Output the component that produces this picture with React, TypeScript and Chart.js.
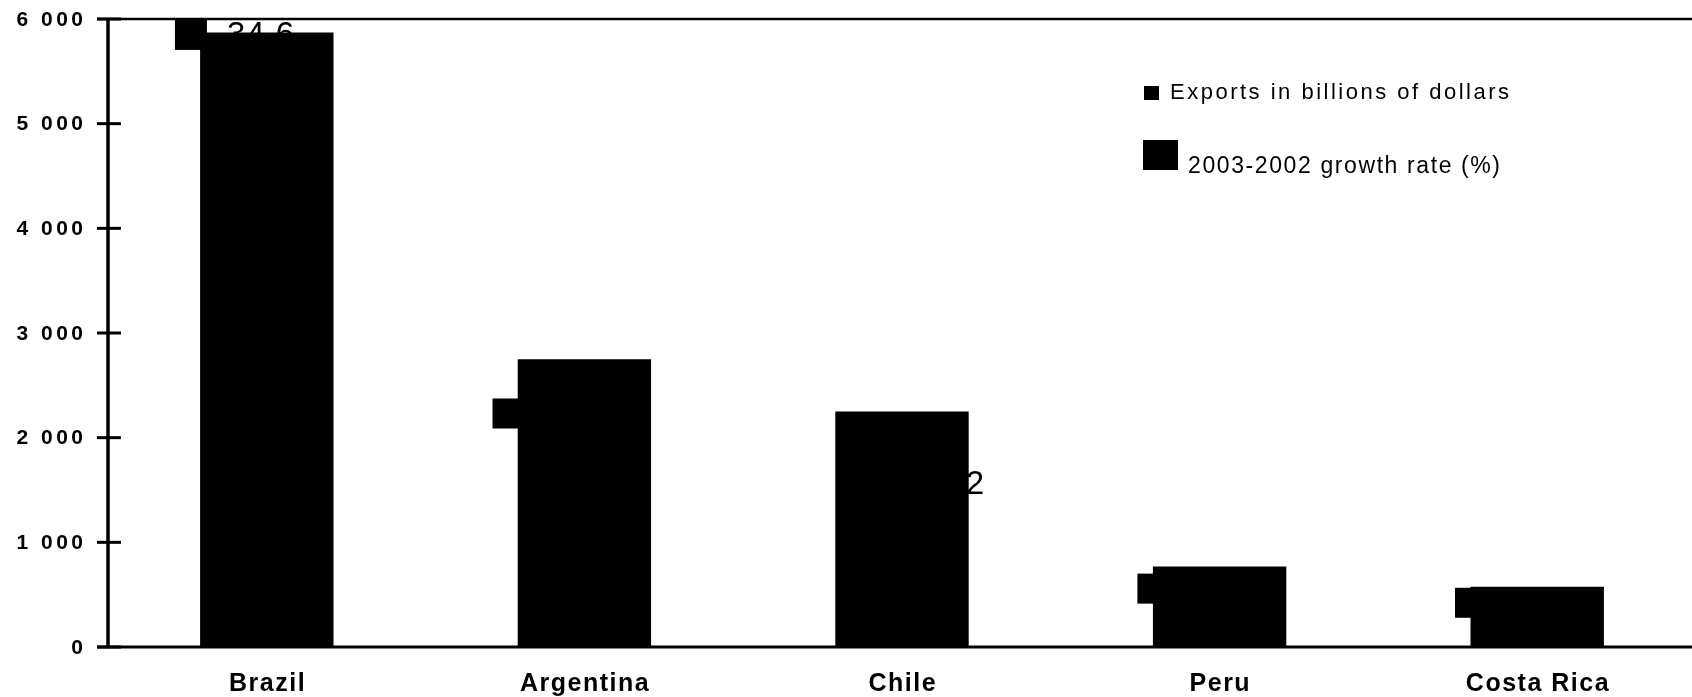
import React, { useEffect, useRef } from 'react';
import { Chart, registerables } from 'chart.js';

Chart.register(...registerables);

// ---- data ----
const countries = ['Brazil', 'Argentina', 'Chile', 'Peru', 'Costa Rica'];
const exportsValues = [5870, 2750, 2250, 770, 575];
const growthRates = [34.6, 13.2, 9.2, 3.3, 2.5];
const growthLabelPosition = ['center', 'center', 'right', 'center', 'center'];
const yTickValues = [0, 1000, 2000, 3000, 4000, 5000, 6000];
const yTickLabels = ['0', '1 000', '2 000', '3 000', '4 000', '5 000', '6 000'];
const seriesNames = ['Exports in billions of dollars', '2003-2002 growth rate (%)'];

const FONT = '"Liberation Sans", Arial, sans-serif';

const drawPlugin = {
  id: 'customDraw',
  beforeDatasetsDraw(chart: any) {
    const ctx = chart.ctx as CanvasRenderingContext2D;
    const { left, top, bottom } = chart.chartArea;
    const W = chart.width;
    const yScale = chart.scales.y;
    const xScale = chart.scales.x;
    ctx.save();
    ctx.strokeStyle = '#000';
    ctx.fillStyle = '#000';
    ctx.lineCap = 'butt';

    // top border
    ctx.lineWidth = 2.5;
    ctx.beginPath();
    ctx.moveTo(left - 11, top);
    ctx.lineTo(W, top);
    ctx.stroke();
    // left axis
    ctx.lineWidth = 3.5;
    ctx.beginPath();
    ctx.moveTo(left, top);
    ctx.lineTo(left, bottom);
    ctx.stroke();
    // baseline
    ctx.lineWidth = 3;
    ctx.beginPath();
    ctx.moveTo(left - 11, bottom);
    ctx.lineTo(W, bottom);
    ctx.stroke();
    // tick marks crossing axis
    ctx.lineWidth = 3;
    yTickValues.forEach((v) => {
      const y = yScale.getPixelForValue(v);
      ctx.beginPath();
      ctx.moveTo(left - 11, y);
      ctx.lineTo(left + 13, y);
      ctx.stroke();
    });

    // y tick labels
    (ctx as any).letterSpacing = '3.5px';
    ctx.font = `bold 21px ${FONT}`;
    ctx.textAlign = 'left';
    ctx.textBaseline = 'middle';
    yTickValues.forEach((v, i) => {
      const y = yScale.getPixelForValue(v);
      const txt = yTickLabels[i];
      const w = ctx.measureText(txt).width - 3.5;
      ctx.fillText(txt, left - 25 - w, y + 1);
    });

    // x labels
    (ctx as any).letterSpacing = '1.5px';
    ctx.font = `bold 25px ${FONT}`;
    countries.forEach((c, i) => {
      const x = xScale.getPixelForValue(i);
      const w = ctx.measureText(c).width - 1.5;
      ctx.fillText(c, x - w / 2, bottom + 37);
    });

    // growth data labels with legend key (behind bars)
    const meta = chart.getDatasetMeta(1);
    const step = xScale.getPixelForValue(1) - xScale.getPixelForValue(0);
    (ctx as any).letterSpacing = '1px';
    ctx.font = `33px ${FONT}`;
    growthRates.forEach((g, i) => {
      const pt = meta.data[i];
      if (!pt) return;
      const px = pt.x - 0.1 * step;
      const py = pt.y;
      const txt = g.toFixed(1);
      const tw = ctx.measureText(txt).width;
      const keyW = 32;
      const keyH = 30;
      const gap = 20;
      const blockW = keyW + gap + tw;
      const blockLeft = growthLabelPosition[i] === 'right' ? px + 14 : px - blockW / 2;
      ctx.fillRect(blockLeft, py - keyH / 2, keyW, keyH);
      ctx.fillText(txt, blockLeft + keyW + gap, py + 1);
    });
    ctx.restore();
  },
  afterDraw(chart: any) {
    const ctx = chart.ctx as CanvasRenderingContext2D;
    ctx.save();
    ctx.fillStyle = '#000';
    ctx.textAlign = 'left';
    ctx.textBaseline = 'middle';
    const names = chart.data.datasets.map((d: any) => d.label);
    // item 1
    ctx.fillRect(1144, 86, 15, 14);
    (ctx as any).letterSpacing = '2.5px';
    ctx.font = `22px ${FONT}`;
    ctx.fillText(names[0], 1170, 93);
    // item 2
    ctx.fillRect(1143, 140, 35, 30);
    (ctx as any).letterSpacing = '1.6px';
    ctx.font = `23px ${FONT}`;
    ctx.fillText(names[1], 1188, 167);
    ctx.restore();
  },
};

export default function App() {
  const canvasRef = useRef<HTMLCanvasElement | null>(null);

  useEffect(() => {
    document.body.style.margin = '0';
    document.body.style.overflow = 'hidden';
    const canvas = canvasRef.current;
    if (!canvas) return;
    const chart = new Chart(canvas, {
      type: 'bar',
      data: {
        labels: countries,
        datasets: [
          {
            type: 'bar',
            label: seriesNames[0],
            data: exportsValues,
            backgroundColor: '#000',
            borderWidth: 0,
            barPercentage: 0.42,
            categoryPercentage: 1,
            order: 0,
            xAxisID: 'x',
            yAxisID: 'y',
          } as any,
          {
            type: 'line',
            label: seriesNames[1],
            data: growthRates,
            showLine: false,
            pointRadius: 0,
            pointHoverRadius: 0,
            order: 1,
            xAxisID: 'x',
            yAxisID: 'y2',
          } as any,
        ],
      },
      options: {
        animation: false,
        responsive: true,
        maintainAspectRatio: false,
        layout: { padding: { left: 108, top: 19, right: 0, bottom: 50 } },
        plugins: {
          legend: { display: false },
          tooltip: { enabled: false },
        },
        scales: {
          x: { type: 'category', display: false, offset: true, grid: { display: false } },
          y: { type: 'linear', display: false, min: 0, max: 6000 },
          y2: { type: 'linear', display: false, min: 0, max: 35.5, position: 'right' },
        },
      },
      plugins: [drawPlugin],
    });
    return () => chart.destroy();
  }, []);

  return (
    <div style={{ position: 'fixed', left: 0, top: 0, width: '1696px', height: '697px', background: '#fff' }}>
      <canvas ref={canvasRef} />
    </div>
  );
}
